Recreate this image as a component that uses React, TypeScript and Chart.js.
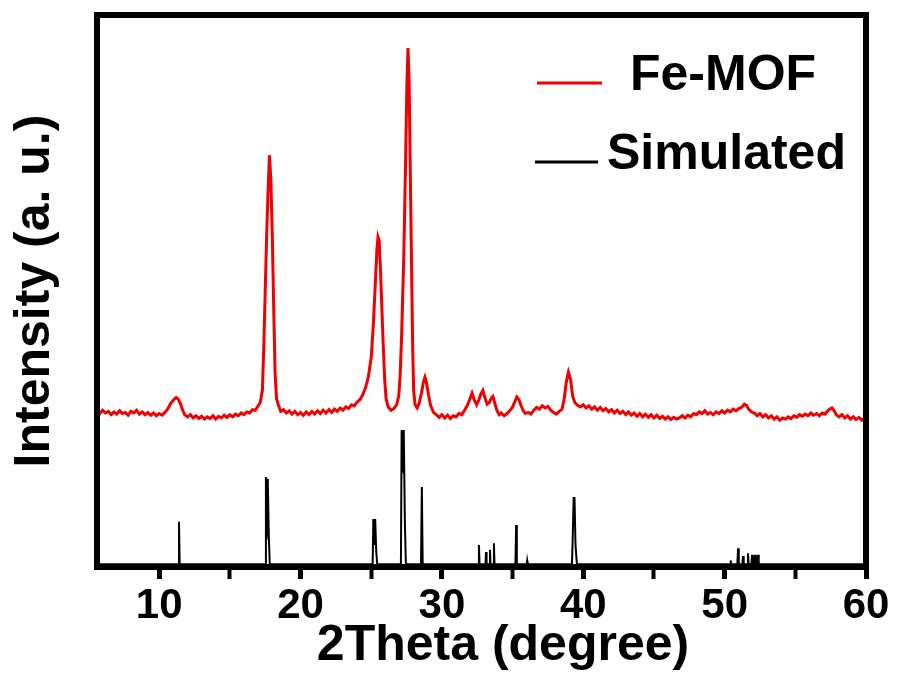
import { useEffect, useRef } from 'react';
import { Chart, registerables } from 'chart.js';

Chart.register(...registerables);

const FONT = "'Liberation Sans', Arial, Helvetica, sans-serif";

const X_MIN = 5.6;
const X_MAX = 60;
const Y_MIN = 0;
const Y_MAX = 100;
const X_TICKS = [10, 15, 20, 25, 30, 35, 40, 45, 50, 55, 60];
const X_TITLE = '2Theta (degree)';
const Y_TITLE = 'Intensity (a. u.)';
const SERIES_LABELS = ['Fe-MOF', 'Simulated'];
const SERIES_COLORS = ['#f00000', '#000000'];

// Measured Fe-MOF pattern [2theta, intensity]
const FE_MOF: [number, number][] = [
  [5.6, 28.3], [5.8, 27.8], [6.0, 28.4], [6.2, 27.9], [6.4, 28.2], [6.6, 27.6], [6.8, 28.1], [7.0, 27.7],
  [7.2, 28.3], [7.4, 27.8], [7.6, 28.0], [7.8, 27.5], [8.0, 28.2], [8.2, 27.9], [8.4, 28.4], [8.6, 27.7],
  [8.8, 28.1], [9.0, 27.6], [9.2, 28.0], [9.4, 27.5], [9.6, 27.9], [9.8, 27.4], [10.0, 27.8], [10.2, 27.5],
  [10.4, 28.0], [10.6, 28.6], [10.8, 29.6], [11.0, 30.2], [11.2, 30.7], [11.35, 30.4], [11.5, 29.6], [11.65, 28.5],
  [11.8, 27.6], [12.0, 27.2], [12.2, 27.6], [12.4, 27.0], [12.6, 27.4], [12.8, 26.9], [13.0, 27.3], [13.2, 26.8],
  [13.4, 27.2], [13.6, 26.9], [13.8, 27.4], [14.0, 26.8], [14.2, 27.3], [14.4, 27.0], [14.6, 27.5], [14.8, 27.1],
  [15.0, 27.6], [15.2, 27.2], [15.4, 27.7], [15.6, 27.4], [15.8, 27.9], [16.0, 27.6], [16.2, 28.1], [16.4, 27.9],
  [16.6, 28.5], [16.8, 28.4], [17.0, 29.2], [17.15, 29.8], [17.3, 32], [17.4, 40], [17.5, 50], [17.6, 60],
  [17.7, 68], [17.8, 74.6], [17.9, 70], [18.0, 60], [18.1, 47], [18.2, 35], [18.3, 30.5], [18.45, 29.2],
  [18.6, 28.2], [18.8, 28.5], [19.0, 27.9], [19.2, 28.3], [19.4, 27.7], [19.6, 28.2], [19.8, 27.6], [20.0, 28.0],
  [20.2, 27.5], [20.4, 28.1], [20.6, 27.6], [20.8, 28.2], [21.0, 27.7], [21.2, 28.3], [21.4, 27.8], [21.6, 28.4],
  [21.8, 27.9], [22.0, 28.5], [22.2, 28.0], [22.4, 28.6], [22.6, 28.2], [22.8, 28.8], [23.0, 28.4], [23.2, 29.0],
  [23.4, 28.7], [23.6, 29.4], [23.8, 29.2], [24.0, 29.9], [24.2, 30.3], [24.4, 31.2], [24.6, 32.5], [24.8, 34.5],
  [25.0, 38], [25.15, 44], [25.3, 52], [25.4, 57.5], [25.48, 59.8], [25.56, 59.2], [25.65, 54], [25.75, 47],
  [25.85, 40], [25.95, 34], [26.05, 30.5], [26.2, 29.0], [26.4, 28.4], [26.6, 28.7], [26.8, 29.4], [26.95, 31],
  [27.05, 35], [27.15, 42], [27.3, 56], [27.42, 72], [27.52, 87], [27.6, 94], [27.68, 88], [27.76, 72],
  [27.85, 55], [27.93, 40], [28.0, 32], [28.1, 29.4], [28.25, 28.8], [28.4, 29.8], [28.55, 31.5], [28.7, 33.6],
  [28.8, 34.4], [28.9, 33.5], [29.05, 31.2], [29.2, 29.3], [29.4, 28.0], [29.6, 27.6], [29.8, 27.1], [30.0, 27.6],
  [30.2, 27.0], [30.4, 27.5], [30.6, 26.9], [30.8, 27.4], [31.0, 27.2], [31.2, 27.8], [31.4, 27.6], [31.6, 28.4],
  [31.8, 29.3], [32.0, 30.6], [32.13, 31.5], [32.3, 30.2], [32.45, 29.4], [32.6, 30.2], [32.75, 31.3], [32.9, 32.0],
  [33.05, 30.6], [33.2, 29.5], [33.35, 29.8], [33.5, 30.6], [33.61, 30.9], [33.75, 29.6], [33.9, 28.3], [34.05, 27.6],
  [34.2, 27.9], [34.4, 27.4], [34.6, 27.8], [34.8, 28.3], [35.0, 29.0], [35.15, 29.9], [35.3, 30.8], [35.45, 30.3],
  [35.6, 29.2], [35.75, 28.3], [35.9, 27.8], [36.1, 28.0], [36.3, 27.7], [36.5, 28.4], [36.7, 28.9], [36.9, 28.6],
  [37.1, 29.2], [37.3, 28.8], [37.5, 29.1], [37.7, 28.4], [37.9, 28.0], [38.1, 27.7], [38.3, 28.2], [38.5, 28.6],
  [38.65, 30.5], [38.8, 33.5], [38.95, 35.3], [39.1, 34.0], [39.25, 31.0], [39.4, 29.8], [39.6, 29.3], [39.8, 29.0],
  [40.0, 29.4], [40.2, 28.8], [40.4, 29.2], [40.6, 28.6], [40.8, 29.0], [41.0, 28.4], [41.2, 28.9], [41.4, 28.3],
  [41.6, 28.7], [41.8, 28.1], [42.0, 28.5], [42.2, 27.9], [42.4, 28.4], [42.6, 27.8], [42.8, 28.2], [43.0, 27.6],
  [43.2, 28.1], [43.4, 27.5], [43.6, 27.9], [43.8, 27.3], [44.0, 27.8], [44.2, 27.2], [44.4, 27.7], [44.6, 27.1],
  [44.8, 27.6], [45.0, 27.0], [45.2, 27.5], [45.4, 26.9], [45.6, 27.3], [45.8, 26.8], [46.0, 27.2], [46.2, 26.7],
  [46.4, 27.1], [46.6, 26.8], [46.8, 27.0], [47.0, 27.4], [47.2, 27.0], [47.4, 27.5], [47.6, 27.2], [47.8, 27.8],
  [48.0, 27.6], [48.2, 28.1], [48.4, 27.8], [48.6, 28.3], [48.8, 27.7], [49.0, 28.0], [49.2, 27.6], [49.4, 28.1],
  [49.6, 27.8], [49.8, 28.3], [50.0, 27.9], [50.2, 28.4], [50.4, 28.1], [50.6, 28.6], [50.8, 28.3], [51.0, 28.7],
  [51.2, 28.9], [51.4, 29.5], [51.55, 29.3], [51.7, 28.6], [51.9, 28.1], [52.1, 27.9], [52.3, 27.4], [52.5, 27.8],
  [52.7, 27.2], [52.9, 27.6], [53.1, 27.0], [53.3, 27.4], [53.5, 26.8], [53.7, 27.2], [53.9, 26.6], [54.1, 27.0],
  [54.3, 26.8], [54.5, 27.2], [54.7, 26.9], [54.9, 27.4], [55.1, 27.1], [55.3, 27.6], [55.5, 27.3], [55.7, 27.7],
  [55.9, 27.4], [56.1, 27.9], [56.3, 27.5], [56.5, 27.8], [56.7, 27.4], [56.9, 27.9], [57.1, 27.7], [57.3, 28.3],
  [57.45, 28.6], [57.6, 28.8], [57.75, 28.3], [57.9, 27.6], [58.1, 27.2], [58.3, 27.6], [58.5, 27.0], [58.7, 27.4],
  [58.9, 26.8], [59.1, 27.2], [59.3, 26.7], [59.5, 27.1], [59.7, 26.6], [59.9, 27.0], [60.0, 26.8],
];

// Simulated stick pattern [2theta, intensity]
const SIMULATED: [number, number][] = [
  [5.6, 0.5], [11.35, 0.5], [11.4, 8.2], [11.45, 0.5],
  [17.5, 0.5], [17.55, 16.3], [17.6, 5], [17.68, 16.0], [17.75, 6], [17.82, 0.5],
  [25.1, 0.5], [25.15, 8.7], [25.2, 4], [25.28, 8.7], [25.35, 3], [25.42, 0.5],
  [27.1, 0.5], [27.15, 24.8], [27.22, 17], [27.3, 24.8], [27.38, 8], [27.45, 0.5],
  [28.52, 0.5], [28.58, 14.5], [28.64, 0.5],
  [32.58, 0.5], [32.62, 4.0], [32.66, 0.5], [33.08, 0.5], [33.12, 2.7], [33.16, 0.5],
  [33.36, 0.5], [33.4, 3.1], [33.44, 0.5], [33.64, 0.5], [33.68, 4.3], [33.72, 0.5],
  [35.2, 0.5], [35.25, 7.6], [35.3, 0.5], [36.0, 0.5], [36.03, 1.1], [36.06, 0.5],
  [39.2, 0.5], [39.25, 5], [39.32, 12.5], [39.38, 12.5], [39.45, 4], [39.55, 0.5],
  [50.4, 0.5], [50.43, 1.2], [50.46, 0.5], [50.9, 0.5], [50.95, 3.4], [51.0, 0.5],
  [51.25, 0.5], [51.3, 2.0], [51.35, 0.5], [51.6, 0.5], [51.65, 2.5], [51.7, 0.5],
  [51.89, 0.5], [51.94, 2.2], [51.99, 0.5], [52.1, 0.5], [52.15, 2.2], [52.2, 0.5],
  [52.31, 0.5], [52.36, 2.2], [52.41, 0.5], [60, 0.5],
];

const framePlugin = {
  id: 'frame',
  afterDatasetsDraw(chart: any) {
    const { ctx, chartArea } = chart;
    ctx.save();
    ctx.strokeStyle = '#000';
    ctx.lineWidth = 6;
    ctx.strokeRect(chartArea.left, chartArea.top, chartArea.right - chartArea.left, chartArea.bottom - chartArea.top);
    ctx.restore();
  },
};

const legendPlugin = {
  id: 'insideLegend',
  afterDraw(chart: any) {
    const { ctx } = chart;
    const layout = [
      { x1: 537, x2: 602, ly: 83, tx: 630, ty: 76 },
      { x1: 535, x2: 598, ly: 162, tx: 607, ty: 155 },
    ];
    ctx.save();
    chart.data.datasets.forEach((ds: any, i: number) => {
      const p = layout[i];
      ctx.strokeStyle = ds.borderColor;
      ctx.lineWidth = 3;
      ctx.beginPath();
      ctx.moveTo(p.x1, p.ly);
      ctx.lineTo(p.x2, p.ly);
      ctx.stroke();
      ctx.fillStyle = '#000';
      ctx.font = `bold 50px ${FONT}`;
      ctx.textBaseline = 'middle';
      ctx.textAlign = 'left';
      ctx.fillText(ds.label, p.tx, p.ty);
    });
    ctx.restore();
  },
};

const xTitlePlugin = {
  id: 'xTitle',
  afterDraw(chart: any) {
    const { ctx } = chart;
    ctx.save();
    ctx.fillStyle = '#000';
    ctx.font = `bold 50px ${FONT}`;
    ctx.textBaseline = 'middle';
    ctx.textAlign = 'center';
    ctx.fillText(X_TITLE, 503, 646);
    ctx.restore();
  },
};

export default function App() {
  const ref = useRef<HTMLCanvasElement | null>(null);
  useEffect(() => {
    if (!ref.current) return;
    const chart = new Chart(ref.current, {
      type: 'line',
      data: {
        datasets: [
          {
            label: SERIES_LABELS[0],
            data: FE_MOF.map(([x, y]) => ({ x, y })),
            borderColor: SERIES_COLORS[0],
            borderWidth: 3,
            pointRadius: 0,
            tension: 0,
          },
          {
            label: SERIES_LABELS[1],
            data: SIMULATED.map(([x, y]) => ({ x, y })),
            borderColor: SERIES_COLORS[1],
            borderWidth: 2,
            pointRadius: 0,
            tension: 0,
          },
        ],
      },
      plugins: [framePlugin, legendPlugin, xTitlePlugin],
      options: {
        animation: false,
        responsive: false,
        layout: { padding: { top: 15, right: 32, left: 0, bottom: 0 } },
        plugins: { legend: { display: false }, tooltip: { enabled: false }, title: { display: false } },
        scales: {
          x: {
            type: 'linear',
            min: X_MIN,
            max: X_MAX,
            afterBuildTicks: (s: any) => {
              s.ticks = X_TICKS.map((v) => ({ value: v }));
            },
            afterFit: (s: any) => {
              s.height = 113;
            },
            border: { display: false },
            grid: {
              display: true,
              drawOnChartArea: false,
              drawTicks: true,
              tickLength: 12,
              tickColor: '#000',
              color: '#000',
              tickWidth: (c: any) => (c.tick && c.tick.value % 10 === 0 ? 5 : 4),
            },
            ticks: {
              autoSkip: false,
              maxRotation: 0,
              minRotation: 0,
              padding: 2,
              color: '#000',
              font: { family: FONT, size: 42, weight: 'bold' },
              callback: (v: any) => (Number(v) % 10 === 0 ? String(v) : ''),
            },
          },
          y: {
            type: 'linear',
            min: Y_MIN,
            max: Y_MAX,
            afterFit: (s: any) => {
              s.width = 97;
            },
            border: { display: false },
            grid: { display: false },
            ticks: { display: false },
            title: {
              display: true,
              text: Y_TITLE,
              color: '#000',
              font: { family: FONT, size: 50, weight: 'bold' },
              padding: { top: 5, bottom: 0 },
            },
          },
        },
      },
    } as any);
    return () => chart.destroy();
  }, []);
  return (
    <div style={{ position: 'absolute', left: 0, top: 0, width: 898, height: 680, background: '#fff' }}>
      <canvas ref={ref} width={898} height={680} style={{ display: 'block' }} />
    </div>
  );
}
